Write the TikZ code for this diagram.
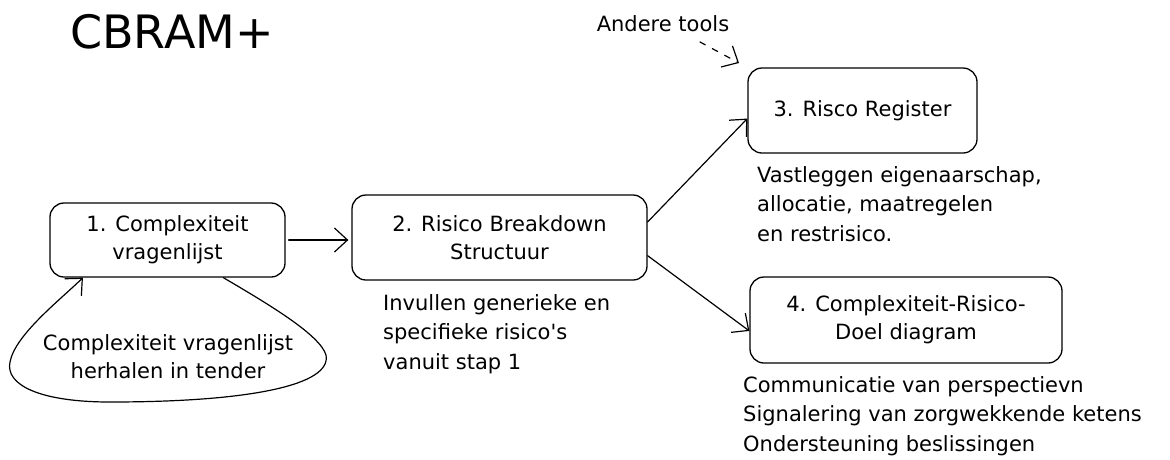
\documentclass[tikz,border=0pt]{standalone}
\usepackage{fontspec}
\setmainfont{DejaVu Sans}
\usetikzlibrary{arrows.meta}

\begin{document}
\begin{tikzpicture}[x=1pt,y=-1pt,>={Straight Barb[length=13pt,width=24pt]},line join=round,line cap=round,
  stepbox/.style={draw,line width=1.3pt,rounded corners=14pt,align=center,inner sep=0pt,font=\fontsize{21}{28}\selectfont},
  note/.style={anchor=north west,align=left,inner sep=0pt,font=\fontsize{21}{29.5}\selectfont},
  link/.style={->,line width=1.2pt}]
  \useasboundingbox (0,0) rectangle (1170,459);
%%
% Title
  \node (title) at (172,32) {\fontsize{46}{50}\selectfont CBRAM+};
% Node: box1
  \node[stepbox,minimum width=235pt,minimum height=74pt] (box1) at (167.5,240) {1. Complexiteit\\vragenlijst};
  \node[align=center,inner sep=0pt,font=\fontsize{21}{28}\selectfont] (loopnote) at (168,357) {Complexiteit vragenlijst\\herhalen in tender};
% Node: box2
  \node[stepbox,minimum width=295pt,minimum height=85pt] (box2) at (499.5,237.5) {2. Risico Breakdown\\Structuur};
  \node[note] (box2note) at (383,294) {Invullen generieke en\\specifieke risico\textquotesingle s\\vanuit stap 1};
% Node: box3
  \node[stepbox,minimum width=229pt,minimum height=85pt] (box3) at (862.5,110.5) {3. Risco Register};
  \node[note] (box3note) at (757,166) {Vastleggen eigenaarschap,\\allocatie, maatregelen\\en restrisico.};
% Node: box4
  \node[stepbox,minimum width=312pt,minimum height=86pt] (box4) at (906,320) {4. Complexiteit-Risico-\\Doel diagram};
  \node[note] (box4note) at (743,376) {Communicatie van perspectievn\\Signalering van zorgwekkende ketens\\Ondersteuning beslissingen};
% Andere tools
  \node[inner sep=0pt,font=\fontsize{21}{24}\selectfont] (tools) at (663,24) {Andere tools};
  \coordinate (tools-start) at (700,42);
  \coordinate (tools-end) at (739,63);
%
  % Edge: box1 -> box2
  \draw[link,shorten <=3pt,shorten >=3pt] (box1.east) -- (box2.west |- box1.east);
  % Edge: box2 -> box3
  \draw[link] (box2.6) -- (box3.184);
  % Edge: box2 -> box4
  \draw[link] (box2.-7) -- (box4.184);
  % Edge: box1 -> box1
  \draw[link] (box1.-34) .. controls (270,305) and (320,335) .. (326,355)
    .. controls (332,385) and (250,402) .. (110,402)
    .. controls (40,402) and (5,385) .. (10,362)
    .. controls (15,335) and (60,300) .. (box1.-156);
  % Edge: tools -> box3
  \draw[link,dashed,dash pattern=on 6pt off 8pt] (tools-start) -- (tools-end);
%
\end{tikzpicture}
\end{document}
